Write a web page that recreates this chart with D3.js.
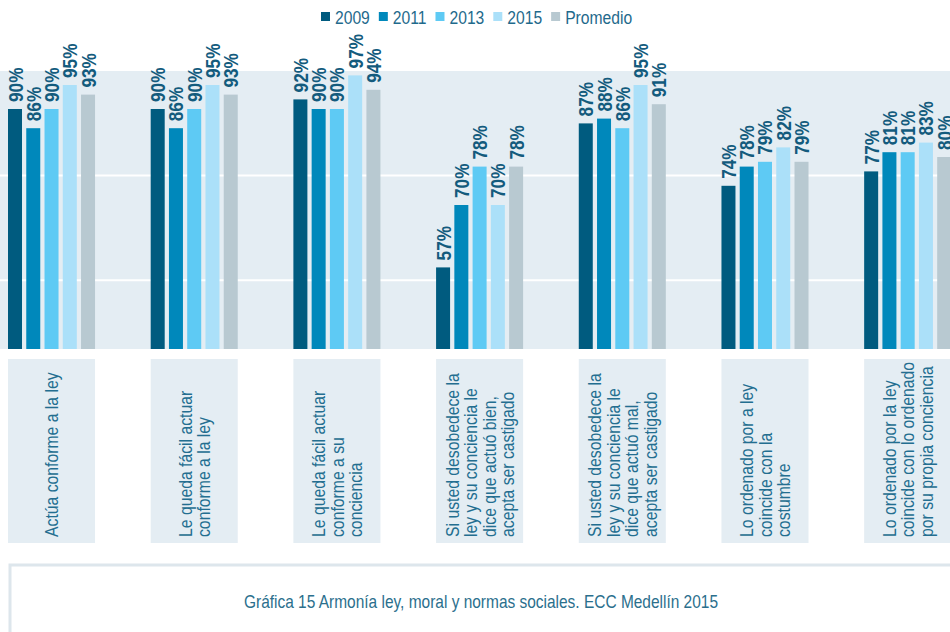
<!DOCTYPE html>
<html>
<head>
<meta charset="utf-8">
<script src="https://cdn.jsdelivr.net/npm/d3@7"></script>
<style>
  html, body { margin: 0; padding: 0; background: #ffffff; }
  svg { display: block; }
  text { font-family: 'Liberation Sans', Arial, sans-serif; }
</style>
</head>
<body>
<svg id="chart" width="950" height="632"></svg>
<script>
// ---------- data ----------
const categories = [
  ["Actúa conforme a la ley"],
  ["Le queda fácil actuar", "conforme a la ley"],
  ["Le queda fácil actuar", "conforme a su", "conciencia"],
  ["Si usted desobedece la", "ley y su conciencia le", "dice que actuó bien,", "acepta ser castigado"],
  ["Si usted desobedece la", "ley y su conciencia le", "dice que actuó mal,", "acepta ser castigado"],
  ["Lo ordenado por a ley", "coincide con la", "costumbre"],
  ["Lo ordenado por la ley", "coincide con lo ordenado", "por su propia conciencia"]
];
const seriesNames = ["2009", "2011", "2013", "2015", "Promedio"];
const values2009 = [90, 90, 92, 57, 87, 74, 77];
const values2011 = [86, 86, 90, 70, 88, 78, 81];
const values2013 = [90, 90, 90, 78, 86, 79, 81];
const values2015 = [95, 95, 97, 70, 95, 82, 83];
const valuesProm = [93, 93, 94, 78, 91, 79, 80];
const caption = "Gráfica 15 Armonía ley, moral y normas sociales. ECC Medellín 2015";

const seriesValues = [values2009, values2011, values2013, values2015, valuesProm];
const colors = ["#005b7f", "#0088bb", "#5ecaf4", "#abe0f9", "#b8c9d1"];

// ---------- layout ----------
const W = 950, H = 632;
const plotTop = 71, plotBottom = 349;
const NARROW = 0.83; // horizontal condensing of text
const svg = d3.select("#chart");

const catIdx = d3.range(categories.length);
const x0 = d3.scaleBand().domain(catIdx).range([8, 951.2]).paddingInner(0.39).paddingOuter(0);
const x1 = d3.scaleBand().domain(seriesNames).range([0, x0.bandwidth()]).paddingInner(0.233).paddingOuter(0);
const y = d3.scaleLinear().domain([40, 100]).range([plotBottom, 61]);

// plot background
svg.append("rect").attr("x", 0).attr("y", plotTop).attr("width", W).attr("height", plotBottom - plotTop)
  .attr("fill", "#e4edf3");
// grid lines
[plotTop + 104.6, plotTop + 209.2].forEach(gy => {
  svg.append("line").attr("x1", 0).attr("x2", W).attr("y1", gy).attr("y2", gy)
    .attr("stroke", "#ffffff").attr("stroke-width", 2);
});

// bars
const groups = svg.append("g").selectAll("g").data(catIdx).join("g")
  .attr("transform", i => `translate(${x0(i)},0)`);

groups.selectAll("rect").data(i => seriesNames.map((s, k) => ({s, k, v: seriesValues[k][i]})))
  .join("rect")
  .attr("x", d => x1(d.s))
  .attr("y", d => y(d.v))
  .attr("width", x1.bandwidth())
  .attr("height", d => plotBottom - y(d.v))
  .attr("fill", d => colors[d.k]);

// value labels (rotated)
groups.selectAll("text.val").data(i => seriesNames.map((s, k) => ({s, k, v: seriesValues[k][i]})))
  .join("text")
  .attr("class", "val")
  .attr("transform", d => `translate(${x1(d.s) + x1.bandwidth() / 2 + 7.5},${y(d.v) - 7}) rotate(-90) scale(0.82,1)`)
  .attr("text-anchor", "start")
  .attr("font-size", 21)
  .attr("font-weight", "bold")
  .attr("fill", "#135b7d")
  .text(d => d.v + "%");

// category boxes
const boxTop = 359, boxBottom = 543;
const cat = svg.append("g").selectAll("g").data(catIdx).join("g")
  .attr("transform", i => `translate(${x0(i)},0)`);
cat.append("rect").attr("x", 0).attr("y", boxTop).attr("width", x0.bandwidth())
  .attr("height", boxBottom - boxTop).attr("fill", "#e4edf3");
const lineH = 18.5;
cat.each(function(i) {
  const lines = categories[i];
  const n = lines.length;
  const cx = x0.bandwidth() / 2;
  const t = d3.select(this).append("text")
    .attr("transform", `translate(${cx},${boxBottom - 6}) rotate(-90) scale(${NARROW},1)`)
    .attr("font-size", 19)
    .attr("fill", "#236e90")
    .attr("text-anchor", "start");
  lines.forEach((ln, j) => {
    const off = (j - (n - 1) / 2) * lineH + 6.8;
    t.append("tspan").attr("x", 0).attr("y", off).text(ln);
  });
});

// legend
const legend = svg.append("g");
let lx = 321;
seriesNames.forEach((s, k) => {
  legend.append("rect").attr("x", lx).attr("y", 12).attr("width", 9).attr("height", 9).attr("fill", colors[k]);
  const t = legend.append("text").attr("transform", `translate(${lx + 14},24) scale(0.87,1)`)
    .attr("font-size", 18).attr("fill", "#1f6a8c").text(s);
  const w = t.node().getComputedTextLength() * 0.87;
  lx = lx + 14 + w + 9;
});

// caption box
svg.append("path").attr("d", `M10,${H + 2} L10,565 L${W + 2},565`)
  .attr("fill", "none").attr("stroke", "#dde6ec").attr("stroke-width", 3);
svg.append("text").attr("transform", `translate(481,608) scale(0.86,1)`).attr("text-anchor", "middle")
  .attr("font-size", 18).attr("fill", "#2b6f8d").text(caption);
</script>
</body>
</html>
